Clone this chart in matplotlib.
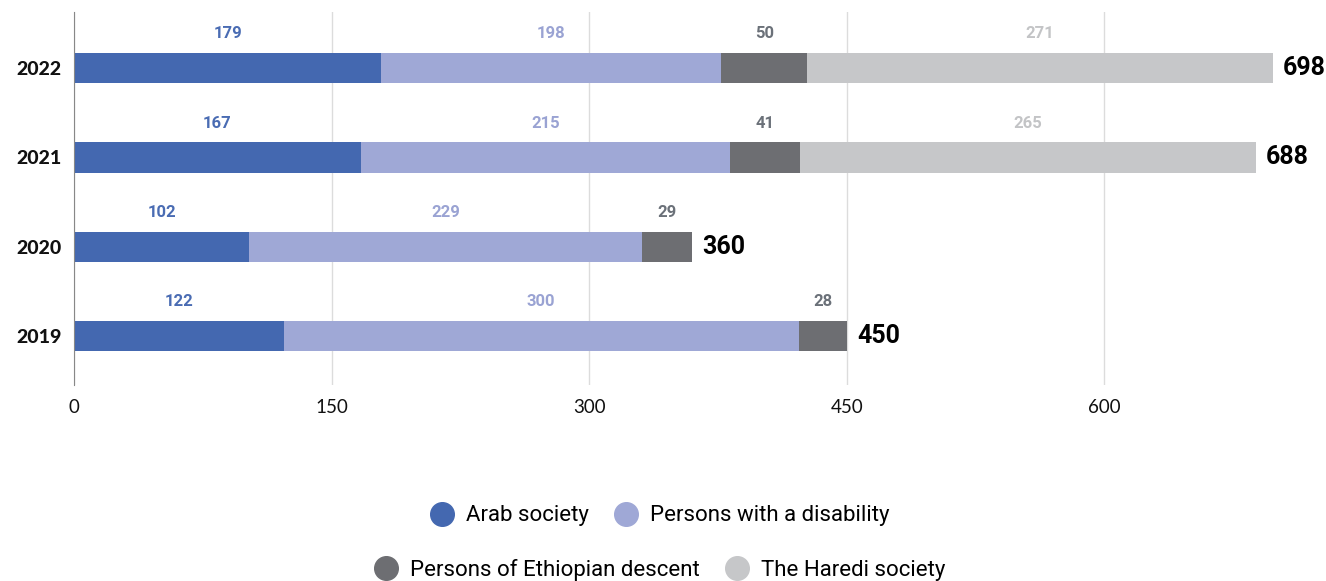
import matplotlib.pyplot as plt
from matplotlib.lines import Line2D
import numpy as np

# data
years = ["2019", "2020", "2021", "2022"]
arab = [122, 102, 167, 179]
disability = [300, 229, 215, 198]
ethiopian = [28, 29, 41, 50]
haredi = [0, 0, 265, 271]
totals = [450, 360, 688, 698]

series_names = ["Arab society", "Persons with a disability",
                "Persons of Ethiopian descent", "The Haredi society"]
bar_colors = ["#4468b0", "#9fa8d6", "#6d6e72", "#c6c7c9"]
label_colors = ["#4a6cb3", "#9aa3d3", "#6b7179", "#c3c4c6"]

num_font = ["Roboto", "DejaVu Sans"]

fig = plt.figure(figsize=(13.26, 5.81), dpi=100)
ax = fig.add_axes([74 / 1326, (581 - 385) / 581, (1326 - 74) / 1326, 373 / 581])

y = np.arange(len(years))
h = 0.34
left = np.zeros(len(years))
for vals, c, lc in zip([arab, disability, ethiopian, haredi], bar_colors, label_colors):
    vals = np.array(vals)
    ax.barh(y, vals, left=left, height=h, color=c, zorder=3)
    for i, v in enumerate(vals):
        if v > 0:
            ax.text(left[i] + v / 2, y[i] + 0.3, str(v), ha="center", va="bottom",
                    color=lc, fontsize=12, fontweight="bold", family=num_font)
    left += vals

for i, t in enumerate(totals):
    ax.text(t + 6, y[i], str(t), ha="left", va="center", color="black",
            fontsize=18, fontweight="bold", family=num_font)

ax.set_xlim(0, 729)
ax.set_ylim(-0.55, 3.63)
ax.set_xticks([0, 150, 300, 450, 600])
ax.set_yticks(y)
ax.set_yticklabels(years, fontsize=14, fontweight="black", family="Lato")
for lbl in ax.get_xticklabels():
    lbl.set_fontsize(13.5)
    lbl.set_family("Lato")
ax.tick_params(axis="both", length=0, pad=9, colors="#111111")
ax.tick_params(axis="x", pad=10)
ax.grid(axis="x", color="#dcdcdc", linewidth=1, zorder=0)
for s in ["top", "right", "bottom"]:
    ax.spines[s].set_visible(False)
ax.spines["left"].set_color("#888888")
ax.spines["left"].set_zorder(4)

handles = [Line2D([], [], marker="o", linestyle="", markersize=17,
                  markerfacecolor=c, markeredgecolor=c) for c in bar_colors]
leg_kw = dict(loc="center", ncol=2, frameon=False,
              prop={"family": "Roboto", "size": 16}, handletextpad=0.45,
              columnspacing=1.1, handlelength=1.2)
fig.legend(handles[:2], series_names[:2], bbox_to_anchor=(0.497, 1 - 516 / 581), **leg_kw)
fig.legend(handles[2:], series_names[2:], bbox_to_anchor=(0.497, 1 - 570 / 581), **leg_kw)

fig.savefig("out.png", dpi=100)
